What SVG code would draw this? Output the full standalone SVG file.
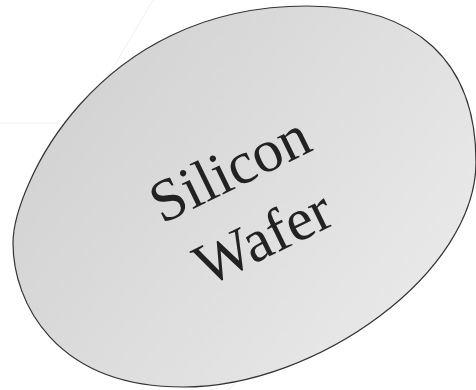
<svg xmlns="http://www.w3.org/2000/svg" width="476" height="390" viewBox="0 0 476 390">
  <defs>
    <linearGradient id="waferFill" x1="0" y1="0.2" x2="1" y2="0.8">
      <stop offset="0" stop-color="#d0d0d0"/>
      <stop offset="1" stop-color="#ebebeb"/>
    </linearGradient>
    <style>
      .bg { stroke: #efefef; stroke-width: 1; fill: none; }
      .wafer { fill: url(#waferFill); stroke: #333333; stroke-width: 1.2; }
      .label { font-family: "Liberation Serif", "Times New Roman", serif; font-size: 60px; fill: #222222; text-anchor: middle; }
    </style>
  </defs>
  <rect width="476" height="390" fill="#ffffff"/>
  <g id="background-lines">
    <line class="bg" x1="153" y1="0" x2="100" y2="90"/>
    <line class="bg" x1="0" y1="123" x2="60" y2="123"/>
    <line class="bg" x1="228" y1="390" x2="240" y2="378"/>
  </g>
  <g id="wafer">
    <path class="wafer" d="M307,6 C417,6 476,62 476,162 C476,272 318,387 183,387 C55,387 13,302 13,243 C13,189 94,6 307,6 Z"/>
    <g transform="translate(246,221) rotate(-26)">
      <text class="label" x="8" y="-34">Silicon</text>
      <text class="label" x="8" y="42">Wafer</text>
    </g>
  </g>
</svg>
